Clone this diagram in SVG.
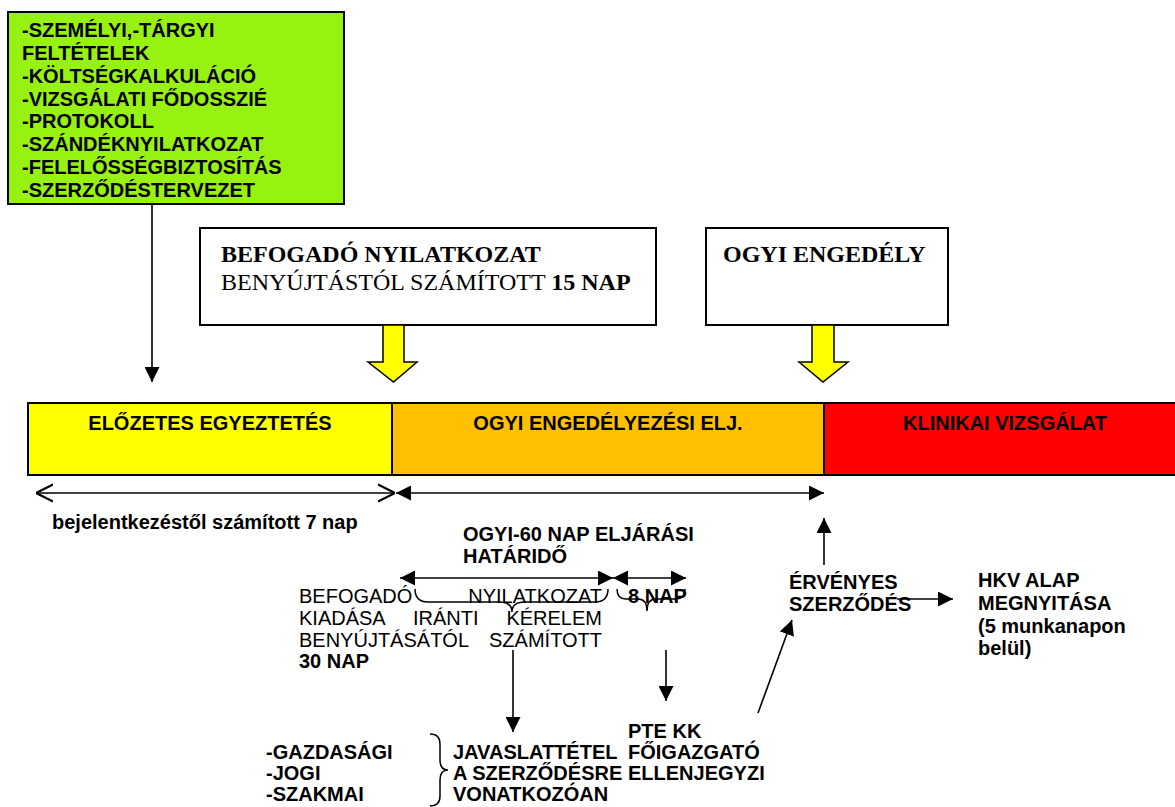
<svg xmlns="http://www.w3.org/2000/svg" width="1175" height="807" viewBox="0 0 1175 807">
<style>
  .b { font-family: "Liberation Sans", Arial, sans-serif; font-weight: bold; font-size: 20px; fill: #000; }
  .r { font-family: "Liberation Sans", Arial, sans-serif; font-size: 20px; fill: #000; }
  .tb { font-family: "Liberation Serif", "Times New Roman", serif; font-weight: bold; font-size: 24px; fill: #000; }
  .tr { font-family: "Liberation Serif", "Times New Roman", serif; font-size: 24px; fill: #000; }
  .box { stroke: #000; stroke-width: 2; }
  .ln { stroke: #000; stroke-width: 1.6; fill: none; }
  .brace { stroke: #000; stroke-width: 1.5; fill: none; }
  .blk { fill: #FFFF00; stroke: #000; stroke-width: 1.5; }
</style>
<defs>
  <marker id="ah" viewBox="0 0 10 10" refX="10" refY="5" markerUnits="userSpaceOnUse" markerWidth="15" markerHeight="15" orient="auto-start-reverse">
    <path d="M0,0 L10,5 L0,10 z" fill="#000"/>
  </marker>
  <marker id="oh" viewBox="0 0 10 10" refX="10" refY="5" markerUnits="userSpaceOnUse" markerWidth="17" markerHeight="20" orient="auto-start-reverse">
    <path d="M0,0 L10,5 L0,10" fill="none" stroke="#000" stroke-width="1.2"/>
  </marker>
</defs>
<rect width="1175" height="807" fill="#fff"/>

<g id="feltetelek">
  <rect class="box" x="8" y="12" width="336" height="192" fill="#97F211"/>
  <text class="b" x="22" y="37">-SZEMÉLYI,-TÁRGYI</text>
  <text class="b" x="22" y="60">FELTÉTELEK</text>
  <text class="b" x="22" y="83">-KÖLTSÉGKALKULÁCIÓ</text>
  <text class="b" x="22" y="106">-VIZSGÁLATI FŐDOSSZIÉ</text>
  <text class="b" x="22" y="128">-PROTOKOLL</text>
  <text class="b" x="22" y="151">-SZÁNDÉKNYILATKOZAT</text>
  <text class="b" x="22" y="174">-FELELŐSSÉGBIZTOSÍTÁS</text>
  <text class="b" x="22" y="197">-SZERZŐDÉSTERVEZET</text>
</g>

<g id="befogado-nyilatkozat">
  <rect class="box" x="200" y="228" width="456" height="97" fill="#fff"/>
  <text class="tb" x="221" y="262">BEFOGADÓ NYILATKOZAT</text>
  <text class="tr" x="221" y="290">BENYÚJTÁSTÓL SZÁMÍTOTT <tspan class="tb">15 NAP</tspan></text>
</g>

<g id="ogyi-engedely">
  <rect class="box" x="706" y="228" width="242" height="97" fill="#fff"/>
  <text class="tb" x="723" y="262">OGYI ENGEDÉLY</text>
</g>

<g id="block-arrows">
  <polygon class="blk" points="383,325 404,325 404,362 417,362 393.5,382 368,362 383,362"/>
  <polygon class="blk" points="812,325 834,325 834,362 848,362 823,382 799,362 812,362"/>
</g>

<g id="elozetes-egyeztetes">
  <rect class="box" x="28" y="403" width="364" height="72" fill="#FFFF00"/>
  <text class="b" x="210" y="430" text-anchor="middle">ELŐZETES EGYEZTETÉS</text>
</g>
<g id="ogyi-engedelyezesi">
  <rect class="box" x="392" y="403" width="432" height="72" fill="#FFC000"/>
  <text class="b" x="608" y="430" text-anchor="middle">OGYI ENGEDÉLYEZÉSI ELJ.</text>
</g>
<g id="klinikai-vizsgalat">
  <rect class="box" x="824" y="403" width="360" height="72" fill="#FF0000"/>
  <text class="b" x="1005" y="430" text-anchor="middle">KLINIKAI VIZSGÁLAT</text>
</g>

<g id="label-7nap">
  <text class="b" x="52" y="529">bejelentkezéstől számított 7 nap</text>
</g>

<g id="label-60nap">
  <text class="b" x="463" y="541">OGYI-60 NAP ELJÁRÁSI</text>
  <text class="b" x="463" y="563">HATÁRIDŐ</text>
</g>

<g id="label-30nap">
  <text class="r" x="299" y="603">BEFOGADÓ</text>
  <text class="r" x="602" y="603" text-anchor="end">NYILATKOZAT</text>
  <text class="r" x="299" y="625">KIADÁSA</text>
  <text class="r" x="413" y="625">IRÁNTI</text>
  <text class="r" x="602" y="625" text-anchor="end">KÉRELEM</text>
  <text class="r" x="299" y="647">BENYÚJTÁSÁTÓL</text>
  <text class="r" x="602" y="647" text-anchor="end">SZÁMÍTOTT</text>
  <text class="b" x="299" y="668">30 NAP</text>
</g>

<g id="label-8nap">
  <text class="b" x="628" y="603">8 NAP</text>
</g>

<g id="ervenyes-szerzodes">
  <text class="b" x="789" y="589">ÉRVÉNYES</text>
  <text class="b" x="789" y="611">SZERZŐDÉS</text>
</g>

<g id="hkv-alap">
  <text class="b" x="978" y="587">HKV ALAP</text>
  <text class="b" x="978" y="610">MEGNYITÁSA</text>
  <text class="b" x="978" y="633">(5 munkanapon</text>
  <text class="b" x="978" y="655">belül)</text>
</g>

<g id="szempontok">
  <text class="b" x="266" y="759">-GAZDASÁGI</text>
  <text class="b" x="266" y="780">-JOGI</text>
  <text class="b" x="266" y="801">-SZAKMAI</text>
</g>

<g id="javaslattetel">
  <text class="b" x="453" y="759">JAVASLATTÉTEL</text>
  <text class="b" x="453" y="780">A SZERZŐDÉSRE</text>
  <text class="b" x="453" y="801">VONATKOZÓAN</text>
</g>

<g id="pte-kk">
  <text class="b" x="628" y="738">PTE KK</text>
  <text class="b" x="628" y="759">FŐIGAZGATÓ</text>
  <text class="b" x="628" y="780">ELLENJEGYZI</text>
</g>

<g id="connectors">
  <line class="ln" x1="152" y1="204" x2="152" y2="382" marker-end="url(#ah)"/>
  <line class="ln" x1="36" y1="493" x2="395" y2="493" marker-start="url(#oh)" marker-end="url(#oh)"/>
  <line class="ln" x1="396" y1="493" x2="824" y2="493" marker-start="url(#ah)" marker-end="url(#ah)"/>
  <line class="ln" x1="400" y1="578" x2="613" y2="578" marker-start="url(#ah)" marker-end="url(#ah)"/>
  <line class="ln" x1="613" y1="578" x2="686" y2="578" marker-start="url(#ah)" marker-end="url(#ah)"/>
  <path class="brace" d="M415,589 Q415,602 428,602 L499,602 Q512,602 512,612 Q512,602 525,602 L595,602 Q608,602 608,589"/>
  <path class="brace" d="M617,589 Q617,599 626,599 L638,599 Q647,599 647,611 Q647,599 656,599 L676,599 Q685,599 685,589"/>
  <line class="ln" x1="824" y1="565" x2="824" y2="518" marker-end="url(#ah)"/>
  <line class="ln" x1="897" y1="599" x2="953" y2="599" marker-end="url(#ah)"/>
  <line class="ln" x1="758" y1="713" x2="792" y2="620" marker-end="url(#ah)"/>
  <line class="ln" x1="513" y1="650" x2="513" y2="732" marker-end="url(#ah)"/>
  <line class="ln" x1="666" y1="650" x2="666" y2="701" marker-end="url(#ah)"/>
  <path class="brace" d="M430,734 Q440,734 440,744 L440,760 Q440,770 448,770 Q440,770 440,780 L440,796 Q440,806 430,806"/>
</g>
</svg>
